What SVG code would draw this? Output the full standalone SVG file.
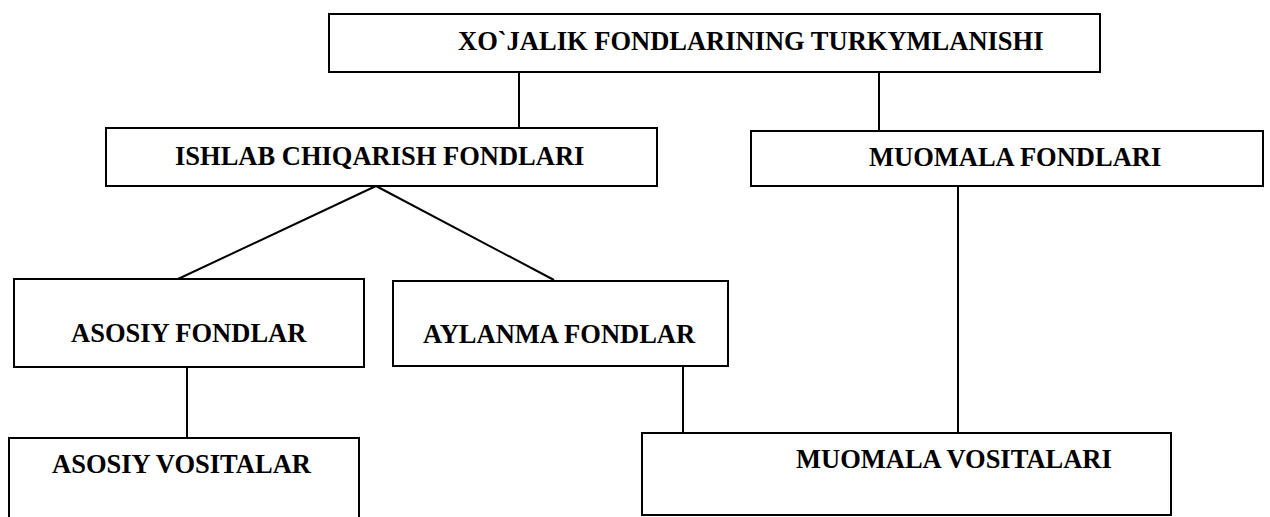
<svg xmlns="http://www.w3.org/2000/svg" width="1270" height="517" viewBox="0 0 1270 517">
<style>
.box{fill:#fff;stroke:#000;stroke-width:2}
.lbl{font-family:"Liberation Serif","Times New Roman",serif;font-weight:bold;font-size:26.5px;fill:#000}
.con{stroke:#000;stroke-width:2;fill:none}
</style>
<rect width="1270" height="517" fill="#fff"/>
<g id="connectors">
<line class="con" x1="519" y1="72" x2="519" y2="128"/>
<line class="con" x1="879" y1="72" x2="879" y2="131"/>
<line class="con" x1="376" y1="186" x2="178" y2="279"/>
<line class="con" x1="376" y1="186" x2="554" y2="280"/>
<line class="con" x1="187" y1="367" x2="187" y2="438"/>
<line class="con" x1="683" y1="366" x2="683" y2="433"/>
<line class="con" x1="958" y1="186" x2="958" y2="433"/>
</g>
<g id="n-root">
<rect class="box" x="329" y="14" width="771" height="58"/>
<text class="lbl" x="458" y="50">XO`JALIK FONDLARINING TURKYMLANISHI</text>
</g>
<g id="n-ishlab">
<rect class="box" x="106" y="128" width="551" height="58"/>
<text class="lbl" x="175" y="165">ISHLAB CHIQARISH FONDLARI</text>
</g>
<g id="n-muomala-f">
<rect class="box" x="751" y="131" width="512" height="55"/>
<text class="lbl" x="869" y="166">MUOMALA FONDLARI</text>
</g>
<g id="n-asosiy-f">
<rect class="box" x="14" y="279" width="350" height="88"/>
<text class="lbl" x="71" y="342">ASOSIY FONDLAR</text>
</g>
<g id="n-aylanma">
<rect class="box" x="393" y="281" width="335" height="85"/>
<text class="lbl" x="423" y="343">AYLANMA FONDLAR</text>
</g>
<g id="n-asosiy-v">
<rect class="box" x="9" y="438" width="350" height="90"/>
<text class="lbl" x="52" y="473">ASOSIY VOSITALAR</text>
</g>
<g id="n-muomala-v">
<rect class="box" x="642" y="433" width="529" height="82"/>
<text class="lbl" x="796" y="468">MUOMALA VOSITALARI</text>
</g>
</svg>
